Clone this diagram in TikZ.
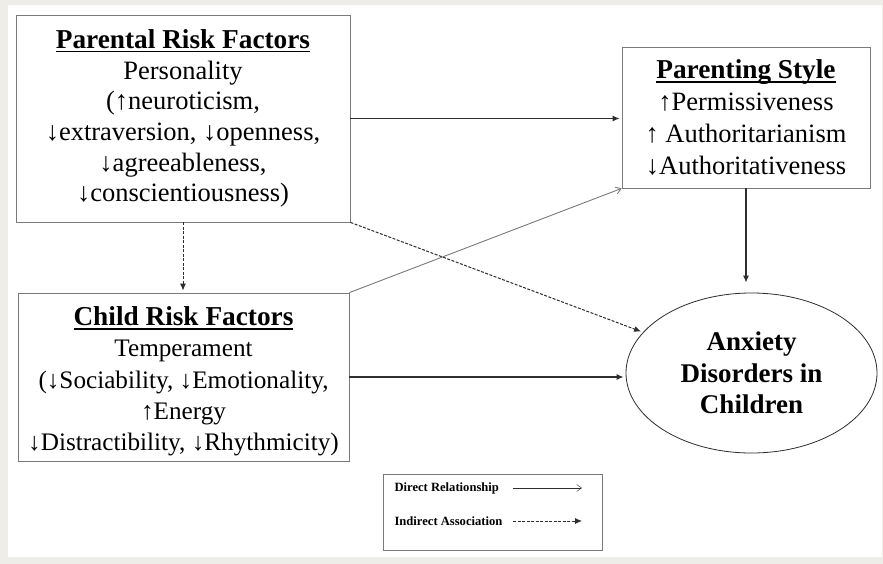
\documentclass[tikz,border=0pt]{standalone}
\usepackage{fontspec}
\setmainfont{Liberation Serif}
\usetikzlibrary{arrows.meta,shapes.geometric}

\definecolor{pagebg}{HTML}{EFEDE7}
\definecolor{boxline}{HTML}{7A7A7A}
\definecolor{arrline}{HTML}{2E2E2E}

\newcommand\boxfont{\fontsize{26.5}{30.7}\selectfont}
\newcommand\kidfont{\fontsize{25.2}{31.3}\selectfont}
\newcommand\stylefont{\fontsize{26.5}{32}\selectfont}
\newcommand\ovalfont{\fontsize{27}{31.5}\selectfont\bfseries}
\newcommand\keyfont{\fontsize{12.6}{15}\selectfont\bfseries}
% bold title with a heavy underline
\newcommand\hdr[1]{\setbox0\hbox{\fontsize{27.3}{30}\selectfont\bfseries #1}\leavevmode\rlap{\rule[-4pt]{\wd0}{1.8pt}}\box0}

\tikzset{
  riskbox/.style={draw=boxline, thick, fill=white, align=center, font=\boxfont, inner sep=0pt},
  oval/.style={ellipse, draw=arrline, thick, fill=white, align=center, font=\ovalfont, inner sep=0pt},
  direct/.style={-{Latex[length=7pt,width=6pt]}, line width=1.2pt, draw=arrline, shorten >=2pt},
  indirect/.style={-{Latex[length=7pt,width=6pt]}, line width=1pt, dash pattern=on 3pt off 1.5pt, draw=arrline, shorten >=2pt},
  thinline/.style={-{Straight Barb[length=5pt,width=7pt]}, draw=boxline, line width=0.9pt},
}

\begin{document}
\begin{tikzpicture}[x=1pt, y=-1pt]

% Draw the page
\fill[pagebg] (0,0) rectangle (883,564);
\fill[white] (8,5) rectangle (882,557);
\useasboundingbox (0,0) rectangle (883,564);

% the boxes
\node[riskbox, minimum width=334pt, minimum height=207pt] (par) at (183,118.5)
  {\hdr{Parental Risk Factors}\\ Personality\\ (↑neuroticism,\\ ↓extraversion, ↓openness,\\ ↓agreeableness,\\ ↓conscientiousness)};
\node[riskbox, minimum width=331pt, minimum height=168pt] (chd) at (183.5,377) {};
\node[align=center, font=\kidfont, inner sep=0pt] (chdtxt) at (183.5,381.5)
  {\hdr{Child Risk Factors}\\ Temperament\\ (↓Sociability, ↓Emotionality,\\ ↑Energy\\ ↓Distractibility, ↓Rhythmicity)};
\node[riskbox, font=\stylefont, minimum width=248pt, minimum height=141pt] (sty) at (746,117.5)
  {\hdr{Parenting Style}\\ ↑Permissiveness\\ ↑ Authoritarianism\\ ↓Authoritativeness};
\node[oval, minimum width=251pt, minimum height=160pt] (anx) at (751.5,373)
  {Anxiety\\ Disorders in\\ Children};

% the links
\draw[direct] (par.east) -- (par.east -| sty.west);
\draw[indirect] (par.south) -- (par.south |- chd.north);
\draw[indirect] (par.south east) -- (anx);
\draw[thinline] (chd.north east) -- (sty.south west);
\draw[direct] (chd.east) -- (chd.east -| anx.west);
\draw[direct, shorten >=10pt] (sty.south) -- (sty.south |- anx.north);

% the key
\node[draw=boxline, thick, minimum width=219pt, minimum height=76pt] (key) at (492.5,512) {};
\node[anchor=west, font=\keyfont] (kdir) at (391,488) {Direct Relationship};
\node[anchor=west, font=\keyfont] (kind) at (391,521) {Indirect Association};
\coordinate (kd1) at (513,488);
\coordinate (kd2) at (582,488);
\coordinate (ki1) at (513,521);
\coordinate (ki2) at (582,521);
\draw[thinline, draw=arrline, thin] (kd1) -- (kd2);
\draw[indirect, line width=0.8pt, shorten >=0pt] (ki1) -- (ki2);

\end{tikzpicture}
\end{document}
